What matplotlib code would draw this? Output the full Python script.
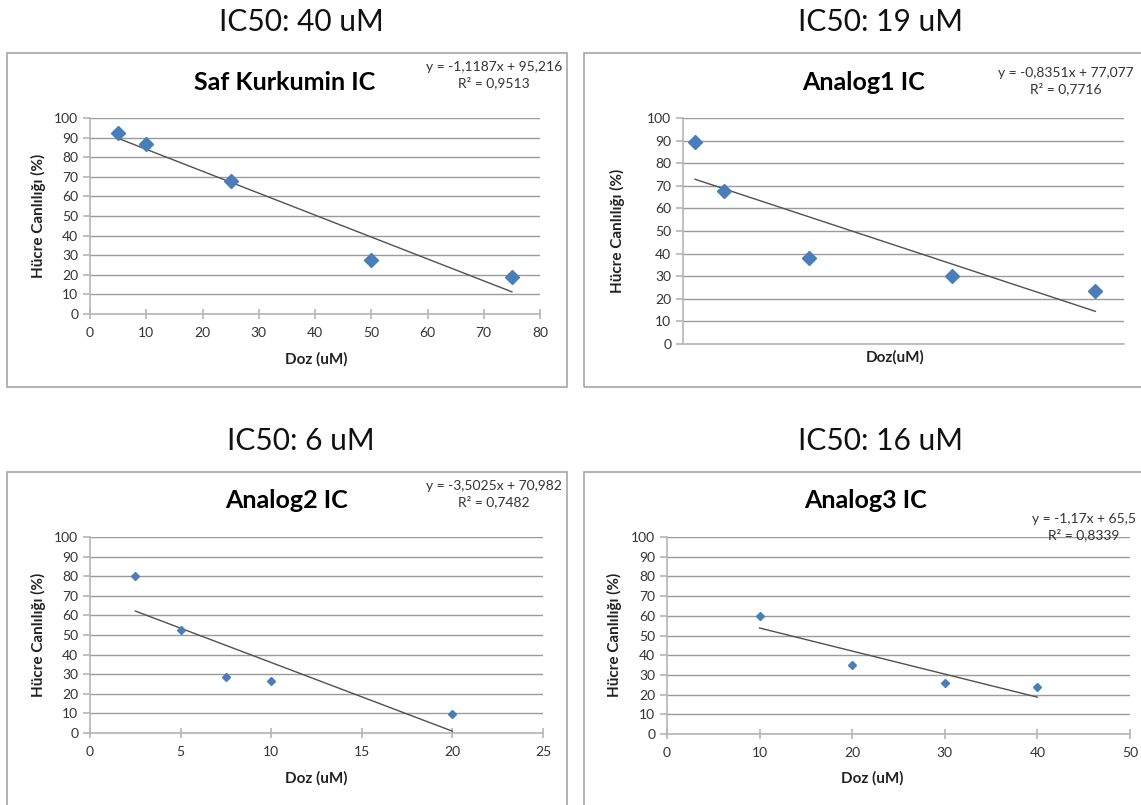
import matplotlib.pyplot as plt
from matplotlib.patches import Rectangle

W, H = 1141, 805

plt.rcParams['font.family'] = ['Lato', 'DejaVu Sans']

# dose (uM) and cell viability (%) for each compound
kurkumin_doz = [5, 10, 25, 50, 75]
kurkumin_canlilik = [92.5, 86.5, 68, 27.5, 19]
kurkumin_egim, kurkumin_kesen, kurkumin_r2 = -1.1187, 95.216, "0,9513"

analog1_doz = [5, 10, 25, 50, 75]
analog1_canlilik = [89.5, 67.5, 38, 30, 23.5]
analog1_egim, analog1_kesen, analog1_r2 = -0.8351, 77.077, "0,7716"

analog2_doz = [2.5, 5, 7.5, 10, 20]
analog2_canlilik = [80, 52.5, 28.5, 26.5, 9.5]
analog2_egim, analog2_kesen, analog2_r2 = -3.5025, 70.982, "0,7482"

analog3_doz = [10, 20, 30, 40]
analog3_canlilik = [60, 35, 26, 24]
analog3_egim, analog3_kesen, analog3_r2 = -1.17, 65.5, "0,8339"

ic50_labels = ["IC50: 40 uM", "IC50: 19 uM", "IC50: 6 uM", "IC50: 16 uM"]
titles = ["Saf Kurkumin IC", "Analog1 IC", "Analog2 IC", "Analog3 IC"]

BLUE = "#4a7ebb"
GRID = "#9a9a9a"
AXIS = "#b5b5b5"
TXT = "#333333"

fig = plt.figure(figsize=(W / 100, H / 100), dpi=100)


def fx(x):
    return x / W


def fy(y):
    return 1 - y / H


def panel(box, ax_px, doz, canlilik, egim, kesen, r2, xmax, xstep,
          ic50, title, ic50_xy, title_xy, eq_xy, ylab_xy, xlab_xy,
          xlabel="Doz (uM)", ms=7, show_x=True, xlim=None):
    # chart frame
    bx0, by0, bx1, by1 = box
    fig.patches.append(Rectangle((fx(bx0), fy(by1)), (bx1 - bx0) / W,
                                 (by1 - by0) / H, transform=fig.transFigure,
                                 fill=False, edgecolor="#a6a6a6", lw=1.2))
    x0, y0, x1, y1 = ax_px
    ax = fig.add_axes([fx(x0), fy(y1), (x1 - x0) / W, (y1 - y0) / H])
    ax.set_facecolor("none")

    ax.plot(doz, canlilik, linestyle="none", marker="D", ms=ms,
            color=BLUE, markeredgecolor=BLUE, zorder=3)
    xs = [min(doz), max(doz)]
    ax.plot(xs, [egim * v + kesen for v in xs], color="#505050", lw=1.0,
            zorder=2)

    ax.set_ylim(0, 100)
    ax.set_yticks(range(0, 101, 10))
    if xlim is None:
        ax.set_xlim(0, xmax)
        ax.set_xticks(range(0, xmax + 1, xstep))
    else:
        ax.set_xlim(*xlim)
        ax.set_xticks([])
    ax.yaxis.grid(True, color=GRID, lw=1.0)
    ax.set_axisbelow(True)
    for s in ["top", "right"]:
        ax.spines[s].set_visible(False)
    for s in ["left", "bottom"]:
        ax.spines[s].set_color(AXIS)
        ax.spines[s].set_linewidth(1.2)
    ax.tick_params(axis="both", colors=AXIS, labelcolor=TXT, labelsize=10,
                   length=5, width=1.2, direction="out")
    ax.tick_params(axis="x", direction="inout", length=7, pad=6)
    if not show_x:
        ax.tick_params(axis="x", length=0)

    fig.text(fx(ic50_xy[0]), fy(ic50_xy[1]), ic50, fontsize=21.5,
             ha="center", va="center", color="#111111")
    fig.text(fx(title_xy[0]), fy(title_xy[1]), title, fontsize=18,
             fontweight="bold", ha="center", va="center", color="black")
    eq = "y = {}x + {}".format(str(egim).replace(".", ","),
                               str(kesen).replace(".", ","))
    fig.text(fx(eq_xy[0]), fy(eq_xy[1]), eq + "\nR² = " + r2, fontsize=10,
             ha="center", va="center", color=TXT, linespacing=1.3)
    fig.text(fx(ylab_xy[0]), fy(ylab_xy[1]), "Hücre Canlılığı (%)",
             fontsize=11, fontweight="bold", rotation=90, ha="center",
             va="center", color="#222222")
    fig.text(fx(xlab_xy[0]), fy(xlab_xy[1]), xlabel, fontsize=11,
             fontweight="bold", ha="center", va="center", color="#222222")
    return ax


panel((7, 53, 567, 387), (90, 118, 540, 314),
      kurkumin_doz, kurkumin_canlilik, kurkumin_egim, kurkumin_kesen,
      kurkumin_r2, 80, 10, ic50_labels[0], titles[0],
      (301, 22), (285, 82), (494, 75), (38, 216), (316, 359))

panel((584, 53, 1145, 387), (683, 118, 1124, 344),
      analog1_doz, analog1_canlilik, analog1_egim, analog1_kesen,
      analog1_r2, 80, 10, ic50_labels[1], titles[1],
      (880, 22), (864, 82), (1066, 81), (617, 231), (895, 357),
      xlabel="Doz(uM)", show_x=False, xlim=(2.9, 80))

panel((7, 472, 567, 810), (90, 537, 543, 733),
      analog2_doz, analog2_canlilik, analog2_egim, analog2_kesen,
      analog2_r2, 25, 5, ic50_labels[2], titles[2],
      (301, 441), (287, 501), (494, 494), (38, 635), (316, 778), ms=4.2)

panel((584, 472, 1145, 810), (667, 537, 1130, 734),
      analog3_doz, analog3_canlilik, analog3_egim, analog3_kesen,
      analog3_r2, 50, 10, ic50_labels[3], titles[3],
      (880, 441), (866, 501), (1084, 527), (614, 635), (872, 778), ms=4.2)

fig.savefig("out.png", dpi=100)
